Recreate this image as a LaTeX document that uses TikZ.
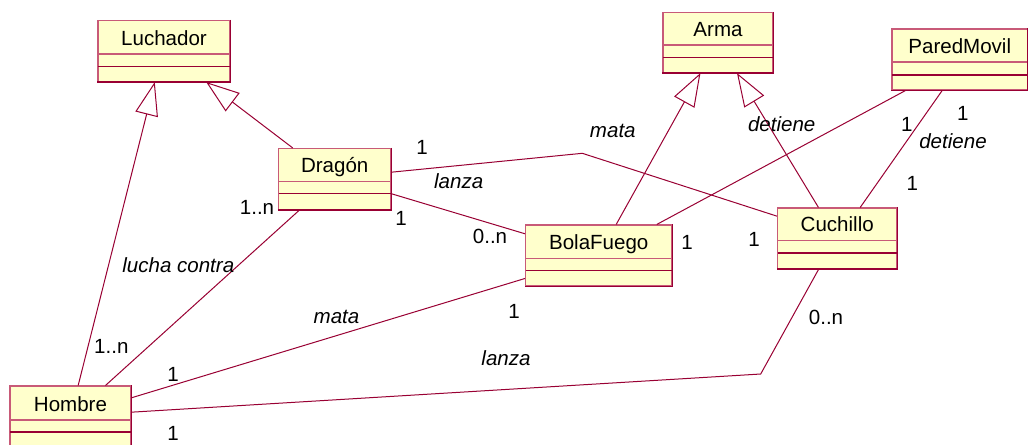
\documentclass[tikz,border=0pt]{standalone}
\usepackage{fontspec}
\setmainfont{Liberation Sans}
\usetikzlibrary{arrows.meta,calc,fit}
\definecolor{umlline}{RGB}{153,0,51}
\definecolor{umlfill}{RGB}{255,255,204}
\definecolor{umllight}{RGB}{200,90,120}
\tikzset{
  clsbox/.style={draw=umllight, fill=umlfill, line width=0.8pt, inner sep=0pt},
  clstitle/.style={font=\fontsize{15.4pt}{18pt}\selectfont, inner sep=0pt, anchor=base},
  lbl/.style={font=\fontsize{15.4pt}{18pt}\selectfont, inner sep=0pt, anchor=base},
  role/.style={font=\fontsize{15.4pt}{18pt}\selectfont\itshape, inner sep=0pt, anchor=base},
  conn/.style={draw=umlline, line width=0.75pt},
  gen/.style={conn, -{Triangle[open, length=25pt, width=17.3pt]}}
}
\newcommand\umlclass[8]{%
  \node[clsbox, fit={(#2,#3) (#4,#5)}] (#1) {};
  \draw[umllight, line width=0.8pt] (#2,#6) -- (#4,#6);
  \draw[umlline, line width=0.9pt] (#2,#7) -- (#4,#7);
  \draw[umlline, line width=1.3pt] (#1.north east) -- (#1.south east) -- (#1.south west);
  \node[clstitle] (#1-t) at ({(#2+#4)/2},{#6-9}) {#8};
}
\begin{document}
\begin{tikzpicture}[x=0.75pt, y=-0.75pt]
\useasboundingbox (0,0) rectangle (1028,444);
\fill[white] (0,0) rectangle (1028,444);

\umlclass{luch}{98}{20.5}{230}{81.5}{54}{66.5}{Luchador}
\umlclass{arma}{663}{12.5}{773}{72.5}{45}{57.5}{Arma}
\umlclass{pared}{892}{29}{1027.5}{90}{62}{75}{ParedMovil}
\umlclass{drag}{278.5}{148.5}{391}{209.5}{181.5}{193.5}{Dragón}
\umlclass{bola}{525.5}{225}{672}{286}{258.5}{270.5}{BolaFuego}
\umlclass{cuch}{777.5}{208}{897}{268.5}{240.5}{253}{Cuchillo}
\umlclass{hom}{10}{386}{131}{470}{420}{432}{Hombre}

% generalizations
\draw[gen] ($(hom.north west)+(68.7,0)$) -- ($(luch.south west)+(57.3,0)$);
\draw[gen] ($(drag.north west)+(14.8,0)$) -- ($(luch.south west)+(108.7,0)$);
\draw[gen] ($(bola.north west)+(91.2,0)$) -- ($(arma.south west)+(38,0)$);
\draw[gen] ($(cuch.north west)+(41.5,0)$) -- ($(arma.south west)+(74.5,0)$);

% associations
\draw[conn] ($(pared.south west)+(14,0)$) -- ($(bola.north west)+(131.8,0)$);
\draw[conn] ($(pared.south west)+(50.7,0)$) -- ($(cuch.north west)+(83.2,0)$);
\coordinate (b1) at (582.3,153.3);
\draw[conn] ($(drag.north east)+(0,24.2)$) -- (b1) -- ($(cuch.north west)+(0,8.7)$);
\draw[conn] ($(drag.north east)+(0,45.8)$) -- ($(bola.north west)+(0,9.3)$);
\draw[conn] ($(hom.north west)+(96,0)$) -- ($(drag.south west)+(21.5,0)$);
\draw[conn] ($(hom.north east)+(0,12.3)$) -- ($(bola.north west)+(0,54)$);
\coordinate (b2) at (760.7,374);
\draw[conn] ($(hom.north east)+(0,26.7)$) -- (b2) -- ($(cuch.south west)+(41.8,0)$);

% labels
\node[lbl] (m1) at (257,214.3) {1..n};
\node[lbl] (m2) at (422,154) {1};
\node[role] (r1) at (458.7,188.3) {lanza};
\node[role] (r2) at (612.8,137.3) {mata};
\node[lbl] (m3) at (401,225) {1};
\node[lbl] (m4) at (490,243.3) {0..n};
\node[lbl] (m5) at (687,249) {1};
\node[lbl] (m6) at (754,246) {1};
\node[role] (r3) at (781.7,131.7) {detiene};
\node[lbl] (m7) at (906.7,131.7) {1};
\node[lbl] (m8) at (962.7,120) {1};
\node[role] (r4) at (953,148.3) {detiene};
\node[lbl] (m9) at (912.3,190.7) {1};
\node[role] (r5) at (178.3,272.7) {lucha contra};
\node[lbl] (m10) at (111.3,353.3) {1..n};
\node[lbl] (m11) at (173,381) {1};
\node[role] (r6) at (336.5,323.3) {mata};
\node[lbl] (m12) at (514,318.3) {1};
\node[role] (r7) at (506,365.7) {lanza};
\node[lbl] (m13) at (826,324) {0..n};
\node[lbl] (m14) at (173,440) {1};
\end{tikzpicture}
\end{document}
